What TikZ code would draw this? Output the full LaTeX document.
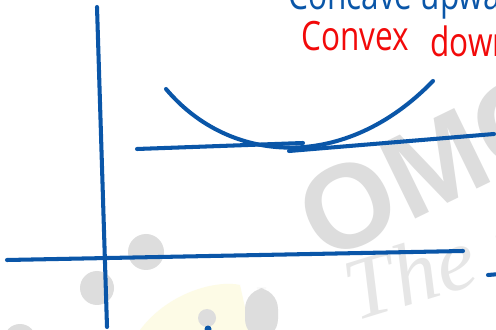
\documentclass[tikz,border=0pt]{standalone}
\usepackage{fontspec}
\setmainfont{Open Sans}
\newfontfamily\wmfont{Liberation Sans}
\newfontfamily\wmscript{Liberation Serif}
\definecolor{penblue}{HTML}{0A56A8}
\definecolor{penred}{HTML}{F20A0A}
\definecolor{wmgray}{HTML}{DDDDDD}
\definecolor{wmlight}{HTML}{E6E6E6}
\definecolor{wmyellow}{HTML}{FDFBE6}
\tikzset{
  pen/.style={draw=penblue, line width=2.3pt, line cap=round, line join=round},
  wmblob/.style={fill=wmgray, draw=none},
  hand/.style={inner sep=0pt, xscale=0.78, font=\fontsize{23}{26}\selectfont},
}
\begin{document}
\begin{tikzpicture}[x=0.02cm, y=-0.02cm]
\useasboundingbox (0,0) rectangle (496,330);
\clip (0,0) rectangle (496,330);
\fill[white] (0,0) rectangle (496,330);
% watermark
\fill[wmyellow] (140,330) .. controls (170,290) and (220,280) .. (240,285) -- (250,330) -- cycle;
\fill[wmblob] (146,252) circle (18);
\fill[wmblob] (97,288) circle (17);
\fill[wmblob] (207,318) circle (9);
\fill[wmblob] (20,340) circle (16);
\fill[wmblob, rounded corners=12] (245,288) rectangle (278,340);
\node[wmgray, rotate=26, inner sep=0pt, font=\wmfont\bfseries\fontsize{68}{72}\selectfont] (wm) at (432,165) {OMC};
\node[wmlight, rotate=17, inner sep=0pt, font=\wmscript\itshape\fontsize{50}{56}\selectfont, anchor=base west] (wmt) at (355,322) {The p};
% axes
\draw[pen] (97,7) -- (107,327);
\draw[pen] (7,260) -- (463,251);
\draw[pen] (488,275) -- (500,274);
\fill[penblue] (208,329) circle (3.5);
% parabola and tangent
\draw[pen] (166,89) .. controls (230,165) and (345,172) .. (433,81);
\draw[pen] (137,149) -- (303,143);
\draw[pen] (289,151) -- (494,134);
% labels
\node[hand, penred, anchor=base west] (lbl1) at (301,51) {Convex};
\node[hand, penred, anchor=base west] (lbl2) at (430,57) {down};
\node[hand, penblue, anchor=base west] (lbl0) at (288,10) {Concave upward};
\end{tikzpicture}
\end{document}
